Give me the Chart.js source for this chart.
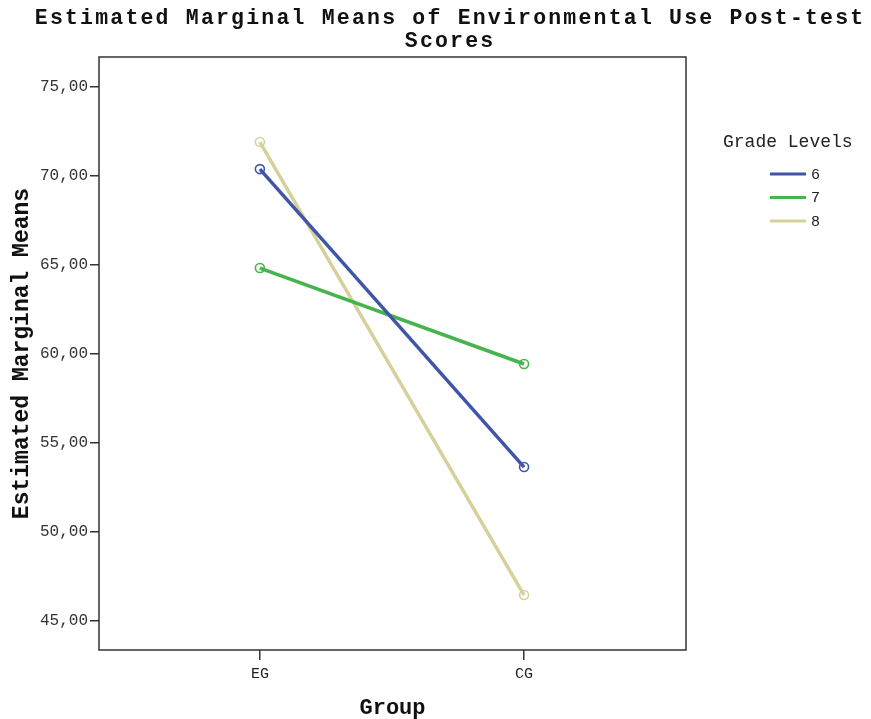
<!DOCTYPE html>
<html>
<head>
<meta charset="utf-8">
<script src="https://cdn.jsdelivr.net/npm/chart.js@4/dist/chart.umd.min.js"></script>
<style>
  html, body { margin: 0; padding: 0; background: #ffffff; }
  #wrap { width: 871px; height: 719px; }
</style>
</head>
<body>
<div id="wrap"><canvas id="c" width="871" height="719"></canvas></div>
<script>
// Groups on the x axis and the mean scores per grade level
const groups = ['EG', 'CG'];
const gradeLevels = ['6', '7', '8'];
const grade6 = [70.39, 53.65];
const grade7 = [64.83, 59.44];
const grade8 = [71.91, 46.46];
const yTicks = [45, 50, 55, 60, 65, 70, 75];
const titleLines = ['Estimated Marginal Means of Environmental Use Post-test', 'Scores'];

const colors = ['#3f56a8', '#45b44c', '#d6d19b'];
const series = [grade6, grade7, grade8];

const MONO = '"Liberation Mono", "DejaVu Sans Mono", monospace';

const datasets = series.map((vals, i) => ({
  label: gradeLevels[i],
  data: vals.map((v, j) => ({ x: j, y: v })),
  borderColor: colors[i],
  backgroundColor: 'rgba(255,255,255,0)',
  borderWidth: 3.5,
  pointRadius: 4.5,
  pointBorderWidth: 1.6,
  pointBorderColor: colors[i],
  pointBackgroundColor: 'rgba(255,255,255,0)',
  showLine: true,
  tension: 0
}));

// Frame around the plot area
const framePlugin = {
  id: 'frame',
  afterDatasetsDraw(chart) {
    const a = chart.chartArea, ctx = chart.ctx;
    ctx.save();
    ctx.strokeStyle = '#333333';
    ctx.lineWidth = 1.5;
    ctx.strokeRect(a.left, a.top, a.right - a.left, a.bottom - a.top);
    ctx.restore();
  }
};

// Two-line heading centred over the whole figure, widely spaced letters
const headingPlugin = {
  id: 'heading',
  afterDraw(chart) {
    const ctx = chart.ctx;
    const spacing = 2.2;
    ctx.save();
    ctx.fillStyle = '#111111';
    ctx.font = 'bold 21.5px ' + MONO;
    ctx.letterSpacing = spacing + 'px';
    ctx.textAlign = 'center';
    ctx.textBaseline = 'middle';
    ctx.fillText(titleLines[0], 449 + spacing / 2, 19);
    ctx.fillText(titleLines[1], 449 + spacing / 2, 42);
    ctx.restore();
  }
};

// Legend block on the right with its heading
const legendPlugin = {
  id: 'gradeLegend',
  afterDraw(chart) {
    const ctx = chart.ctx;
    ctx.save();
    ctx.fillStyle = '#222222';
    ctx.font = '18px ' + MONO;
    ctx.textBaseline = 'middle';
    ctx.textAlign = 'left';
    ctx.fillText('Grade Levels', 723, 142);
    chart.data.datasets.forEach((ds, i) => {
      const y = 174 + i * 23.5;
      ctx.strokeStyle = ds.borderColor;
      ctx.lineWidth = 3;
      ctx.beginPath();
      ctx.moveTo(770, y);
      ctx.lineTo(806, y);
      ctx.stroke();
      ctx.fillStyle = '#222222';
      ctx.font = '15px ' + MONO;
      ctx.fillText(ds.label, 811, y + 1);
    });
    ctx.restore();
  }
};

new Chart(document.getElementById('c'), {
  type: 'scatter',
  data: { datasets },
  options: {
    responsive: false,
    animation: false,
    layout: { padding: { left: 0, right: 185, top: 57, bottom: 0 } },
    plugins: {
      legend: { display: false },
      tooltip: { enabled: false },
      title: { display: false }
    },
    scales: {
      x: {
        type: 'linear',
        min: -0.609,
        max: 1.613,
        afterBuildTicks(scale) { scale.ticks = groups.map((g, i) => ({ value: i })); },
        afterFit(scale) { scale.height = 69; },
        border: { display: false },
        grid: { drawOnChartArea: false, drawTicks: true, tickLength: 10, color: '#333333', lineWidth: 1.5 },
        ticks: {
          padding: 5,
          color: '#222222',
          font: { family: MONO, size: 15 },
          callback: (v) => groups[v] ?? ''
        },
        title: {
          display: true,
          text: 'Group',
          color: '#111111',
          font: { family: MONO, size: 22, weight: 'bold', lineHeight: 1.0 },
          padding: { top: 0, bottom: 0 }
        }
      },
      y: {
        type: 'linear',
        min: 43.37,
        max: 76.69,
        afterBuildTicks(scale) { scale.ticks = yTicks.map(v => ({ value: v })); },
        afterFit(scale) { scale.width = 99; scale.paddingTop = 0; scale.paddingBottom = 0; },
        border: { display: false },
        grid: { drawOnChartArea: false, drawTicks: true, tickLength: 9, color: '#333333', lineWidth: 1.5 },
        ticks: {
          padding: 2,
          color: '#333333',
          font: { family: MONO, size: 16 },
          callback: (v) => v.toFixed(2).replace('.', ',')
        },
        title: {
          display: true,
          text: 'Estimated Marginal Means',
          color: '#111111',
          font: { family: MONO, size: 23, weight: 'bold', lineHeight: 1.0 },
          padding: { top: 11, bottom: 0 }
        }
      }
    }
  },
  plugins: [framePlugin, headingPlugin, legendPlugin]
});
</script>
</body>
</html>
